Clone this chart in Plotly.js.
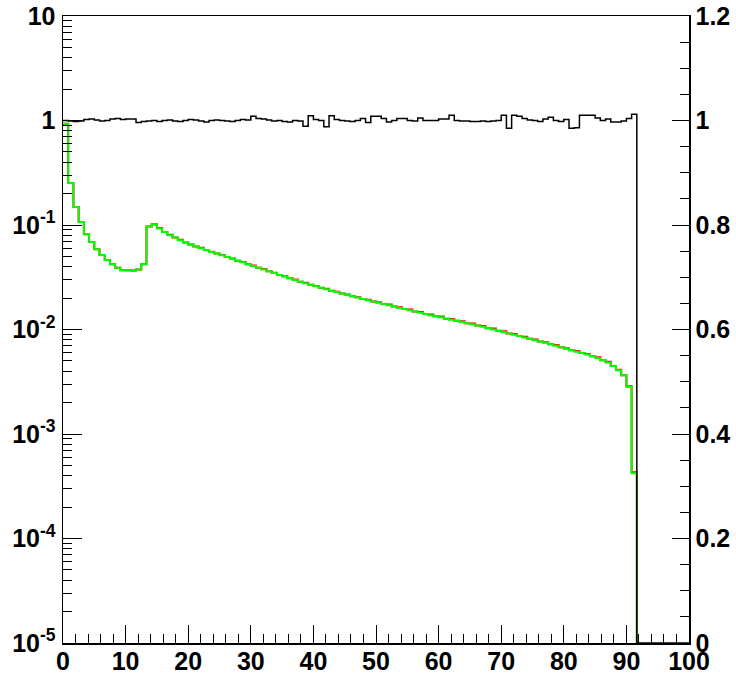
<!DOCTYPE html>
<html>
<head>
<meta charset="utf-8">
<script src="https://cdn.plot.ly/plotly-3.0.1.min.js"></script>
<style>html,body{margin:0;padding:0;background:#fff}#chart{width:736px;height:676px}</style>
</head>
<body>
<div id="chart"></div>
<script>
// Histogram binning
const nBins = 120, xMin = 0, xMax = 100;

// Green spectrum (left log axis), filled bins 0..109
const greenVals = [0.93, 0.252, 0.149, 0.107, 0.0815, 0.0688, 0.0585, 0.0516, 0.0462, 0.042,
  0.039, 0.0369, 0.0366, 0.0366, 0.0375, 0.042, 0.097, 0.101, 0.0925, 0.0857,
  0.080, 0.0759, 0.0716, 0.068, 0.0649, 0.0624, 0.060, 0.0575, 0.0553, 0.0533,
  0.0513, 0.0493, 0.0474, 0.0456, 0.0439, 0.0422, 0.0406, 0.039, 0.0375, 0.0361,
  0.0347, 0.0333, 0.0321, 0.0309, 0.0298, 0.0287, 0.0277, 0.0268, 0.0259, 0.0251,
  0.0243, 0.0235, 0.0228, 0.0221, 0.0214, 0.0208, 0.0202, 0.0196, 0.0191, 0.0185,
  0.0180, 0.0175, 0.0171, 0.0166, 0.0161, 0.0157, 0.0153, 0.0149, 0.0145, 0.0141,
  0.0137, 0.0134, 0.0131, 0.0127, 0.0124, 0.0121, 0.0118, 0.0115, 0.0112, 0.0109,
  0.0106, 0.0103, 0.0100, 0.00973, 0.00944, 0.00918, 0.00891, 0.00865, 0.00839, 0.00815,
  0.00791, 0.00767, 0.00745, 0.00724, 0.0070, 0.00676, 0.00653, 0.00634, 0.00614, 0.00596,
  0.00575, 0.00554, 0.00534, 0.00507, 0.00482, 0.00448, 0.00407, 0.00365, 0.00282, 0.00042];

// Red spectrum (left log axis), almost identical to green
const redVals = [0.93, 0.252, 0.149, 0.107, 0.0815, 0.0688, 0.0585, 0.0516, 0.0462, 0.042,
  0.039, 0.0369, 0.0368, 0.0366, 0.0375, 0.042, 0.097, 0.1015, 0.0935, 0.0857,
  0.0805, 0.0759, 0.0722, 0.068, 0.0652, 0.0624, 0.0607, 0.0575, 0.0556, 0.0533,
  0.0517, 0.0493, 0.0478, 0.0456, 0.0442, 0.0422, 0.0409, 0.039, 0.0379, 0.0361,
  0.035, 0.0333, 0.0324, 0.0309, 0.0301, 0.0287, 0.0280, 0.0268, 0.0261, 0.0251,
  0.0245, 0.0235, 0.0230, 0.0221, 0.0216, 0.0208, 0.0204, 0.0196, 0.0193, 0.0185,
  0.0182, 0.0175, 0.0173, 0.0166, 0.0163, 0.0157, 0.0155, 0.0149, 0.0147, 0.0141,
  0.0139, 0.0134, 0.0133, 0.0127, 0.0126, 0.0121, 0.0120, 0.0115, 0.0114, 0.0109,
  0.0108, 0.0103, 0.0102, 0.00973, 0.0096, 0.00918, 0.00905, 0.00865, 0.00852, 0.00815,
  0.00803, 0.00767, 0.00757, 0.00724, 0.0071, 0.00676, 0.00663, 0.00634, 0.00624, 0.00596,
  0.00584, 0.00554, 0.00542, 0.00507, 0.0049, 0.00448, 0.00413, 0.00365, 0.00286, 0.00043];

// Black ratio (right linear axis), filled bins 0..109
const ratioVals = [1.000, 0.999, 0.998, 0.999, 1.002, 1.003, 1.001, 0.999, 1.000, 1.003,
  1.004, 1.002, 1.003, 1.003, 0.996, 0.998, 0.999, 1.000, 0.998, 1.000,
  1.001, 0.999, 0.998, 1.000, 1.002, 1.001, 0.999, 0.997, 1.000, 1.001,
  1.000, 0.999, 0.998, 1.000, 1.002, 1.001, 1.008, 1.004, 1.003, 1.001,
  0.999, 1.000, 0.998, 0.997, 1.000, 0.999, 0.989, 1.009, 1.002, 1.000,
  0.988, 1.009, 1.002, 1.000, 0.999, 0.998, 1.000, 1.004, 0.996, 1.008,
  1.008, 1.004, 0.997, 1.000, 1.004, 1.004, 1.000, 0.999, 1.005, 1.000,
  1.000, 1.000, 1.003, 1.003, 1.010, 1.000, 0.999, 0.999, 0.998, 0.998,
  0.999, 0.998, 0.999, 1.000, 1.010, 0.985, 1.010, 1.008, 1.004, 1.001,
  1.000, 0.998, 1.003, 1.006, 1.000, 0.998, 1.002, 0.985, 0.986, 1.010,
  1.010, 1.010, 1.005, 1.000, 1.003, 0.997, 0.997, 0.999, 1.004, 1.012];

// Axis tick labels
const xTickLabels = ["0","10","20","30","40","50","60","70","80","90","100"];
const logTickText = ["10<sup>-5</sup>","10<sup>-4</sup>","10<sup>-3</sup>","10<sup>-2</sup>","10<sup>-1</sup>","1","10"];
const ratioTickText = ["0","0.2","0.4","0.6","0.8","1","1.2"];

// ---- build step curves ----
const binW = (xMax - xMin) / nBins;
const edges = [];
for (let i = 0; i <= nBins; i++) edges.push(xMin + i * binW);
function stepY(vals, emptyVal) {
  const out = [];
  for (let i = 0; i < nBins; i++) out.push(i < vals.length ? vals[i] : emptyVal);
  out.push(out[out.length - 1]);
  return out;
}

const FONT = '"Liberation Sans Narrow", "Liberation Sans", Arial, sans-serif';
const tickFont = {family: FONT, size: 25, color: '#000', weight: 700};

const logTickVals = [], logMinor = [];
for (let p = -5; p <= 1; p++) {
  logTickVals.push(Math.pow(10, p));
  if (p < 1) for (let m = 2; m <= 9; m++) logMinor.push(m * Math.pow(10, p));
}
const ratioTickVals = [0, 0.2, 0.4, 0.6, 0.8, 1.0, 1.2];

const traces = [
  {x: edges, y: stepY(redVals, 1e-9), yaxis: 'y', mode: 'lines',
   line: {shape: 'hv', color: '#ff0000', width: 2}, hoverinfo: 'skip'},
  {x: edges, y: stepY(greenVals, 1e-9), yaxis: 'y', mode: 'lines',
   line: {shape: 'hv', color: '#00ff00', width: 2}, hoverinfo: 'skip'},
  {x: edges, y: stepY(ratioVals, 0), yaxis: 'y2', mode: 'lines',
   line: {shape: 'hv', color: '#000000', width: 1.5}, hoverinfo: 'skip'}
];

const layout = {
  width: 736, height: 676,
  margin: {l: 63, r: 47, t: 16, b: 33},
  paper_bgcolor: '#fff', plot_bgcolor: '#fff',
  showlegend: false,
  xaxis: {
    range: [xMin, xMax], tickmode: 'array',
    tickvals: xTickLabels.map(Number), ticktext: xTickLabels,
    ticks: 'inside', ticklen: 18, tickwidth: 1, tickcolor: '#000',
    minor: {dtick: 2, tick0: 0, ticks: 'inside', ticklen: 9, tickwidth: 1, tickcolor: '#000', showgrid: false},
    showline: true, linecolor: '#000', linewidth: 1.5, mirror: true,
    showgrid: false, zeroline: false, tickfont: tickFont, ticklabelstandoff: -5
  },
  yaxis: {
    type: 'log', range: [-5, 1], tickmode: 'array',
    tickvals: logTickVals, ticktext: logTickText,
    ticks: 'inside', ticklen: 19, tickwidth: 1, tickcolor: '#000',
    minor: {tickmode: 'array', tickvals: logMinor, ticks: 'inside', ticklen: 9, tickwidth: 1, tickcolor: '#000', showgrid: false},
    showline: true, linecolor: '#000', linewidth: 1.5,
    showgrid: false, zeroline: false, tickfont: tickFont, ticklabelstandoff: 1
  },
  yaxis2: {
    overlaying: 'y', side: 'right', anchor: 'x', range: [0, 1.2],
    tickmode: 'array', tickvals: ratioTickVals, ticktext: ratioTickText,
    ticks: 'inside', ticklen: 17, tickwidth: 1, tickcolor: '#000',
    minor: {dtick: 0.05, tick0: 0, ticks: 'inside', ticklen: 9, tickwidth: 1, tickcolor: '#000', showgrid: false},
    showline: true, linecolor: '#000', linewidth: 1.5,
    showgrid: false, zeroline: false, tickfont: tickFont, ticklabelstandoff: 0
  }
};

Plotly.newPlot('chart', traces, layout, {staticPlot: true, displayModeBar: false});
</script>
</body>
</html>
